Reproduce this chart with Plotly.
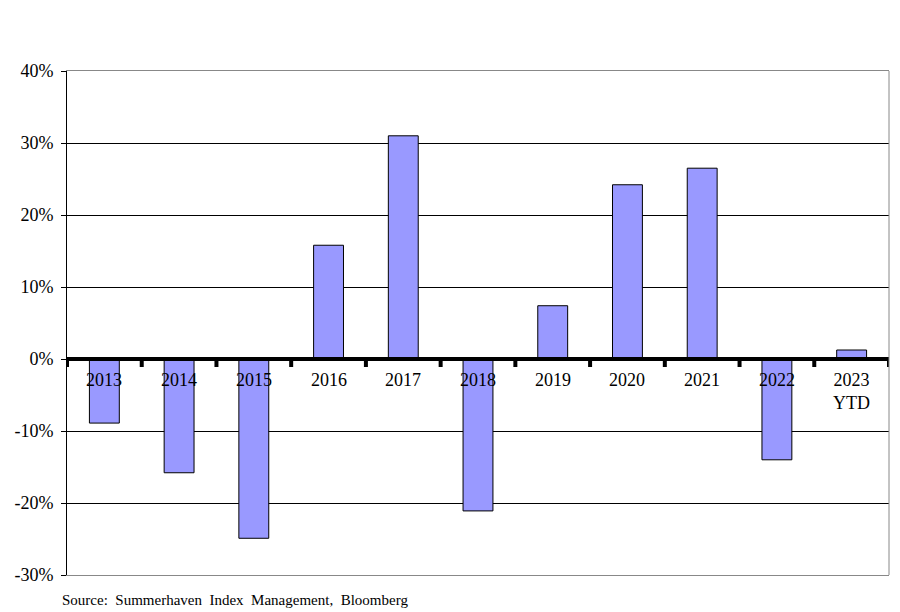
import plotly.graph_objects as go

categories = ["2013", "2014", "2015", "2016", "2017", "2018", "2019", "2020", "2021", "2022", "2023<br>YTD"]
returns = [-8.9, -15.8, -24.9, 15.8, 31.0, -21.1, 7.4, 24.2, 26.5, -14.0, 1.25]
y_ticks = [-30, -20, -10, 0, 10, 20, 30, 40]
y_tick_labels = [f"{v}%" for v in y_ticks]

xs = list(range(len(categories)))

fig = go.Figure()
fig.add_trace(go.Bar(
    x=xs, y=returns, width=0.4,
    marker=dict(color="#9999FF", line=dict(color="black", width=1)),
    hoverinfo="skip",
))

font = "Liberation Serif, Times New Roman, serif"

# zero line
fig.add_shape(type="line", xref="x", yref="y", x0=-0.5, x1=len(categories) - 0.5, y0=0, y1=0,
              line=dict(color="black", width=4), layer="above")
# boundary ticks on the zero line
for i in range(len(categories) + 1):
    fig.add_shape(type="line", xref="x", yref="y", ysizemode="pixel", yanchor=0,
                  x0=i - 0.5, x1=i - 0.5, y0=0, y1=-8,
                  line=dict(color="black", width=4), layer="above")
# category labels below zero line
for i, c in enumerate(categories):
    fig.add_annotation(x=i, y=0, xref="x", yref="y", text=c, showarrow=False,
                       yanchor="top", yshift=-9, align="center",
                       font=dict(family=font, size=18, color="black"))

fig.add_annotation(x=0, y=0, xref="paper", yref="paper", xanchor="left", yanchor="top",
                   xshift=-7, yshift=-15,
                   text="Source:  Summerhaven  Index  Management,  Bloomberg", showarrow=False,
                   font=dict(family=font, size=15, color="black"))

# page body has an 8px default margin; compensate so the plot lands where the reference has it
fig.update_layout(
    width=892, height=604,
    margin=dict(l=59, r=11, t=63, b=37),
    paper_bgcolor="white", plot_bgcolor="white",
    showlegend=False,
    xaxis=dict(range=[-0.5, len(categories) - 0.5], showticklabels=False, showgrid=False,
               zeroline=False, showline=True, linecolor="#888888", linewidth=1, mirror=True,
               ticks="", automargin=False),
    yaxis=dict(range=[-30, 40], tickvals=y_ticks, ticktext=y_tick_labels,
               showgrid=True, gridcolor="black", gridwidth=1, zeroline=False,
               showline=True, linecolor="black", linewidth=1, ticks="outside", ticklen=5,
               tickcolor="black", ticklabelstandoff=4, automargin=False,
               tickfont=dict(family=font, size=18, color="black")),
)
fig.add_shape(type="line", xref="paper", yref="paper", x0=1, x1=1, y0=0, y1=1,
              line=dict(color="#888888", width=1))
fig.write_html("out.html")
